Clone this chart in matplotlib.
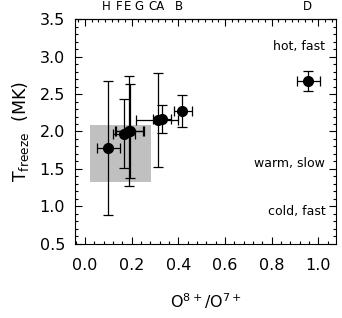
import numpy as np
import matplotlib.pyplot as plt
from matplotlib.patches import Rectangle
from matplotlib.ticker import MultipleLocator, NullFormatter
import matplotlib.transforms as mtransforms

# event ratios and freeze-in temperatures
events = ['H', 'F', 'E', 'G', 'C', 'A', 'B', 'D']
ratio = np.array([0.10, 0.168, 0.19, 0.195, 0.315, 0.33, 0.418, 0.957])
ratio_lo = np.array([0.05, 0.121, 0.128, 0.135, 0.22, 0.29, 0.38, 0.91])
ratio_hi = np.array([0.15, 0.214, 0.254, 0.25, 0.40, 0.37, 0.457, 1.006])
tfreeze = np.array([1.78, 1.97, 2.00, 2.01, 2.15, 2.17, 2.27, 2.68])
tfreeze_lo = np.array([0.88, 1.51, 1.27, 1.38, 1.52, 1.98, 2.06, 2.54])
tfreeze_hi = np.array([2.67, 2.44, 2.74, 2.63, 2.78, 2.35, 2.49, 2.81])

# top labels (text centres along x)
top_labels = ['H', 'F', 'E', 'G', 'CA', 'B', 'D']
top_label_x = [0.093, 0.146, 0.184, 0.231, 0.307, 0.403, 0.955]

# shaded region
box_x = (0.021, 0.283)
box_y = (1.33, 2.09)

regimes = ['hot, fast', 'warm, slow', 'cold, fast']
regime_y = [3.13, 1.57, 0.93]

plt.rcParams['font.family'] = 'DejaVu Sans'
fig = plt.figure(figsize=(3.42, 3.18), dpi=100)
ax = fig.add_axes([0.219, 0.233, 0.763, 0.707])

ax.add_patch(Rectangle((box_x[0], box_y[0]), box_x[1] - box_x[0], box_y[1] - box_y[0],
                       facecolor='#c0c0c0', edgecolor='none', zorder=0))

ax.errorbar(ratio, tfreeze,
            xerr=[ratio - ratio_lo, ratio_hi - ratio],
            yerr=[tfreeze - tfreeze_lo, tfreeze_hi - tfreeze],
            fmt='o', color='black', ms=7, elinewidth=0.9, capsize=3.5, capthick=0.9)

for txt, yy in zip(regimes, regime_y):
    ax.text(1.03, yy, txt, ha='right', va='center', fontsize=9)

trans = mtransforms.blended_transform_factory(ax.transData, ax.transAxes)
for txt, xx in zip(top_labels, top_label_x):
    ax.text(xx, 1.025, txt, transform=trans, ha='center', va='bottom', fontsize=8.5)

ax.set_xlim(-0.043, 1.075)
ax.set_ylim(0.5, 3.5)
ax.xaxis.set_major_locator(MultipleLocator(0.2))
ax.xaxis.set_minor_locator(MultipleLocator(0.04))
ax.yaxis.set_major_locator(MultipleLocator(0.5))
ax.yaxis.set_minor_locator(MultipleLocator(0.1))
ax.tick_params(which='both', direction='in', top=False, right=True, width=0.8)
ax.tick_params(which='major', length=5, labelsize=11.5)
ax.tick_params(axis='x', which='major', pad=10)
ax.tick_params(axis='y', which='major', pad=7)
ax.tick_params(which='minor', length=2.5)
ax.xaxis.set_major_formatter(plt.FormatStrFormatter('%.1f'))
ax.yaxis.set_major_formatter(plt.FormatStrFormatter('%.1f'))
for s in ax.spines.values():
    s.set_linewidth(0.8)

# top axis has its own finer tick marks
top = ax.secondary_xaxis('top')
top.xaxis.set_major_locator(MultipleLocator(0.2))
top.xaxis.set_minor_locator(MultipleLocator(0.2 / 7))
top.xaxis.set_major_formatter(NullFormatter())
top.tick_params(which='both', direction='in', width=0.8)
top.tick_params(which='major', length=5)
top.tick_params(which='minor', length=2.5)

ax.set_xlabel(r'O$^{8+}$/O$^{7+}$', fontsize=11.5, labelpad=13)
ax.set_ylabel(r'T$_{\rm freeze}$  (MK)', fontsize=12.5, labelpad=6)

fig.savefig('out.png', dpi=100)
